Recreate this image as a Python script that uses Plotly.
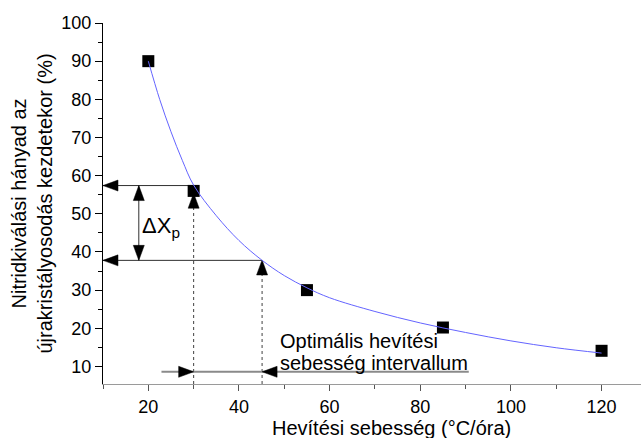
import plotly.graph_objects as go

# ---- data ----
pts_x = [20, 30, 55, 85, 120]
pts_y = [90, 56, 30, 20.2, 14.1]

# fitted curve
curve_x = [20, 22.5, 25, 27.5, 30, 35, 40, 45, 50, 55, 60, 70, 80, 90, 100, 110, 120]
curve_y = [90, 80, 71.5, 64, 57.5, 49.5, 43, 37.9, 33.8, 30.6, 28.0, 24.4, 21.4, 18.9, 16.7, 14.9, 13.5]

# guide lines (data coordinates)
h_upper_x = [10, 30.8]
h_upper_y = [57.4, 57.4]
h_lower_x = [10, 45.1]
h_lower_y = [37.8, 37.8]
delta_x = [17.9, 17.9]
delta_y = [57.4, 37.8]
dot1_x = [30, 30]
dot1_y = [5.4, 52.0]
dot2_x = [45.1, 45.1]
dot2_y = [5.4, 34.0]
interval_x = [22.9, 90.7]
interval_y = [8.6, 8.6]

# arrow head tips and directions
head_x = [10, 10, 17.9, 17.9, 30, 45.1, 30, 45.1]
head_y = [57.4, 37.8, 57.4, 37.8, 55.4, 37.9, 8.6, 8.6]
head_dir = ["left", "left", "up", "down", "up", "up", "right", "left"]

x_range = [10, 128.7]
y_range = [5.4, 100]

W, H = 641, 438
ML, MR, MT, MB = 103, 0, 23, 54
FONT = "Liberation Sans, Arial, sans-serif"

sx = (W - ML - MR) / (x_range[1] - x_range[0])
sy = (H - MT - MB) / (y_range[1] - y_range[0])

fig = go.Figure()

line_col = "#303030"
fig.add_trace(go.Scatter(x=h_upper_x, y=h_upper_y, mode="lines",
                         line=dict(color=line_col, width=1), hoverinfo="skip"))
fig.add_trace(go.Scatter(x=h_lower_x, y=h_lower_y, mode="lines",
                         line=dict(color=line_col, width=1), hoverinfo="skip"))
fig.add_trace(go.Scatter(x=delta_x, y=delta_y, mode="lines",
                         line=dict(color=line_col, width=1), hoverinfo="skip"))
fig.add_trace(go.Scatter(x=dot1_x, y=dot1_y, mode="lines",
                         line=dict(color="#404040", width=1, dash="dot"), hoverinfo="skip"))
fig.add_trace(go.Scatter(x=dot2_x, y=dot2_y, mode="lines",
                         line=dict(color="#404040", width=1, dash="dot"), hoverinfo="skip"))
fig.add_trace(go.Scatter(x=interval_x, y=interval_y, mode="lines",
                         line=dict(color="#8a8a8a", width=2), hoverinfo="skip"))

# arrow heads as filled triangles
L_PX, W_PX = 15, 5.5
tx, ty = [], []
for xt, yt, d in zip(head_x, head_y, head_dir):
    if d in ("left", "right"):
        s = 1 if d == "left" else -1
        bx = xt + s * L_PX / sx
        tx += [xt, bx, bx, xt, None]
        ty += [yt, yt + W_PX / sy, yt - W_PX / sy, yt, None]
    else:
        s = -1 if d == "up" else 1
        by = yt + s * L_PX / sy
        tx += [xt, xt - W_PX / sx, xt + W_PX / sx, xt, None]
        ty += [yt, by, by, yt, None]
fig.add_trace(go.Scatter(x=tx, y=ty, mode="lines", fill="toself",
                         fillcolor="black", line=dict(color="black", width=0.5),
                         hoverinfo="skip"))

fig.add_trace(go.Scatter(x=pts_x, y=pts_y, mode="markers",
                         marker=dict(symbol="square", size=12, color="black"),
                         hoverinfo="skip"))
fig.add_trace(go.Scatter(x=curve_x, y=curve_y, mode="lines",
                         line=dict(color="#6464ff", width=1, shape="spline"),
                         hoverinfo="skip"))

tickfont = dict(family=FONT, size=18, color="black")
fig.update_layout(
    width=W, height=H, showlegend=False,
    margin=dict(l=ML, r=MR, t=MT, b=MB),
    paper_bgcolor="white", plot_bgcolor="white",
    xaxis=dict(range=x_range, showline=True, linecolor="#9a9a9a", linewidth=1,
               ticks="outside", ticklen=6, tickcolor="#555", tick0=0, dtick=20,
               minor=dict(ticks="outside", dtick=10, tick0=0, ticklen=4, tickcolor="#555"),
               showgrid=False, zeroline=False, tickfont=tickfont, fixedrange=True),
    yaxis=dict(range=y_range, showline=True, linecolor="black", linewidth=1,
               ticks="outside", ticklen=7, tickcolor="black", tick0=0, dtick=10,
               minor=dict(ticks="outside", dtick=5, tick0=0, ticklen=4, tickcolor="black"),
               showgrid=False, zeroline=False, tickfont=tickfont, fixedrange=True),
)

ann_font = dict(family=FONT, size=20, color="black")
fig.add_annotation(text="Nitridkiválási hányad az<br>újrakristályosodás kezdetekor (%)",
                   xref="paper", yref="paper", x=0, y=0.5, xshift=-72,
                   xanchor="center", yanchor="middle", textangle=-90,
                   showarrow=False, font=ann_font)
fig.add_annotation(text="Hevítési sebesség (°C/óra)",
                   xref="paper", yref="paper", x=0, y=0, xshift=288, yshift=-44,
                   xanchor="center", yanchor="middle", showarrow=False, font=ann_font)
fig.add_annotation(text="Optimális hevítési", xref="x", yref="y", x=48.6, y=16.6,
                   xanchor="left", yanchor="middle", showarrow=False, font=ann_font)
fig.add_annotation(text="sebesség intervallum", xref="x", yref="y", x=48.6, y=10.9,
                   xanchor="left", yanchor="middle", showarrow=False, font=ann_font)
fig.add_annotation(text="ΔX<sub>p</sub>", xref="x", yref="y", x=18.1, y=46.5,
                   xanchor="left", yanchor="middle", showarrow=False,
                   font=dict(family=FONT, size=22, color="black"))

fig.write_html("out.html")
